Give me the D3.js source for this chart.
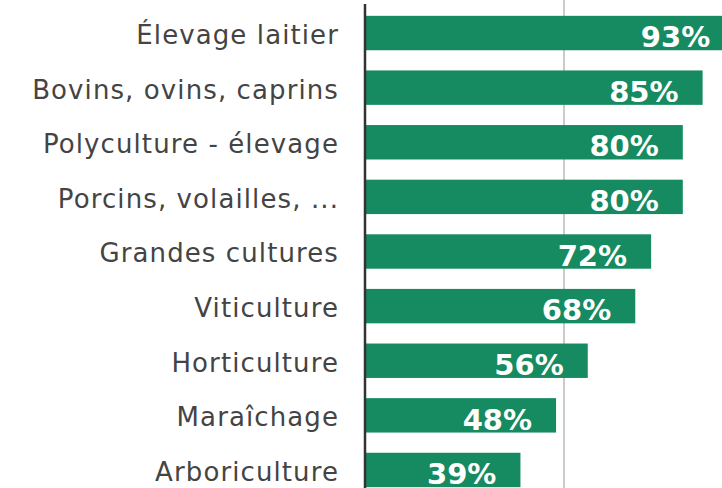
<!DOCTYPE html>
<html>
<head>
<meta charset="utf-8">
<script src="https://cdn.jsdelivr.net/npm/d3@7"></script>
<style>
  body { margin: 0; background: #fff; }
</style>
</head>
<body>
<div id="container"></div>
<script>
let w = 722;
let h = 488;

// data
let categories = ["Élevage laitier", "Bovins, ovins, caprins", "Polyculture - élevage",
  "Porcins, volailles, ...", "Grandes cultures", "Viticulture", "Horticulture",
  "Maraîchage", "Arboriculture"];
let values = [93, 85, 80, 80, 72, 68, 56, 48, 39];
let gridTicks = [50];

let viz = d3.select("#container").append("svg")
    .attr("width", w)
    .attr("height", h)
;

let x = d3.scaleLinear().domain([0, 100]).range([366, 762]);
let y = d3.scaleBand().domain(categories).range([6, 497]).paddingInner(0.37).paddingOuter(0.18);

// gridline
viz.selectAll(".grid").data(gridTicks).enter()
  .append("line")
  .attr("class", "grid")
  .attr("x1", d => x(d))
  .attr("x2", d => x(d))
  .attr("y1", 0)
  .attr("y2", h)
  .attr("stroke", "#a8a8a8")
  .attr("stroke-width", 1.2)
;

// bars
viz.selectAll(".bar").data(values).enter()
  .append("rect")
  .attr("class", "bar")
  .attr("x", x(0))
  .attr("y", (d, i) => y(categories[i]))
  .attr("width", d => x(d) - x(0))
  .attr("height", y.bandwidth())
  .attr("fill", "#168a60")
;

// value labels
viz.selectAll(".val").data(values).enter()
  .append("text")
  .attr("class", "val")
  .text(d => d + "%")
  .attr("x", d => x(d) - 24)
  .attr("y", (d, i) => y(categories[i]) + y.bandwidth() - 3)
  .attr("text-anchor", "end")
  .attr("font-family", "DejaVu Sans")
  .attr("font-weight", "bold")
  .attr("font-size", 29)
  .attr("fill", "#fff")
;

// category labels
viz.selectAll(".cat").data(categories).enter()
  .append("text")
  .attr("class", "cat")
  .text(d => d)
  .attr("x", 339)
  .attr("y", d => y(d) + y.bandwidth() / 2)
  .attr("dy", "0.42em")
  .attr("text-anchor", "end")
  .attr("font-family", "DejaVu Sans")
  .attr("font-size", 26)
  .attr("letter-spacing", 1.1)
  .attr("fill", "#444")
;

// axis line
let yAxis = viz.append("g")
  .attr("transform", "translate(365,0)")
  .call(d3.axisLeft(y).tickSize(0).tickFormat(""));
yAxis.select(".domain")
  .attr("d", "M0,4V" + h)
  .attr("stroke", "#333")
  .attr("stroke-width", 2.5);
</script>
</body>
</html>
